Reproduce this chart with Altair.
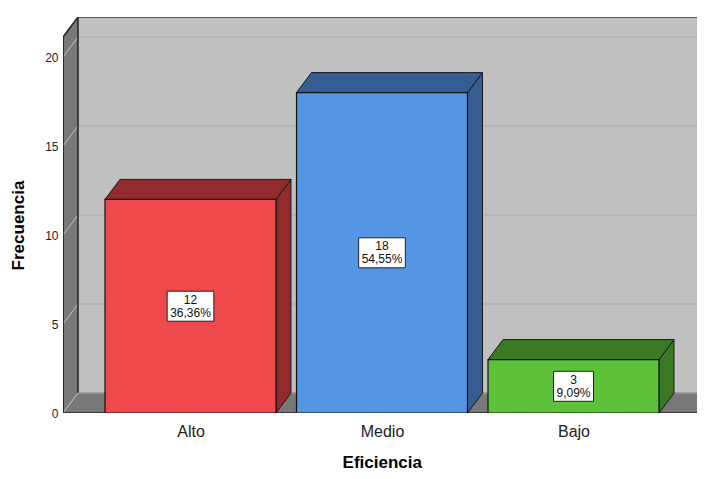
import altair as alt
import pandas as pd

# ---- data ----
categories = ["Alto", "Medio", "Bajo"]
counts = [12, 18, 3]
front_colors = ["#EE4A4D", "#5495E4", "#5DC23A"]
dark_colors = ["#922B2E", "#345E91", "#3A7A25"]
y_ticks = [0, 5, 10, 15, 20]

total = sum(counts)
pct_labels = [f"{c / total * 100:.2f}".replace(".", ",") + "%" for c in counts]

# ---- geometry (in data units) ----
PX_X = 191.5          # pixels per category step
PX_Y = 17.8           # pixels per frequency unit
centers = [1, 2, 3]
HALF_W = 85.5 / PX_X  # half bar width
DX = 15 / PX_X        # 3D depth, x
DY = 20 / PX_Y        # 3D depth, y
X0 = 1 - 127.5 / PX_X
X1 = 3 + 127.5 / PX_X
Y_TOP = 376 / PX_Y
PLOT_W = 634
PLOT_H = 396
X_MAX = X0 + PLOT_W / PX_X
Y_MAX = PLOT_H / PX_Y

FONT = "Liberation Sans"

label_expr = " : ".join(
    [f"datum.value == {c} ? '{n}'" for c, n in zip(centers, categories)]
) + " : ''"

xscale = alt.Scale(domain=[X0, X_MAX], nice=False, zero=False)
yscale = alt.Scale(domain=[0, Y_MAX], nice=False, zero=False)
xaxis = alt.Axis(values=centers, labelExpr=label_expr, title="Eficiencia",
                 grid=False, domain=False, ticks=False, tickSize=0,
                 labelFontSize=16, labelColor="#222222", labelFont=FONT,
                 labelBaseline="middle", labelPadding=18,
                 titleFont=FONT, titleFontSize=17, titleFontWeight="bold",
                 titleColor="#000000", titleX=381.75 - 63, titleY=49,
                 titleBaseline="middle", titleAlign="center",
                 labelOverlap=False, labelBound=False, labelFlush=False)
yaxis = alt.Axis(values=y_ticks, title="Frecuencia", grid=False, domain=False,
                 ticks=False, tickSize=0, labelFontSize=12, labelColor="#222222",
                 labelFont=FONT, labelPadding=5, labelBaseline="middle",
                 titleFont=FONT, titleFontSize=17, titleFontWeight="bold",
                 titleColor="#000000", titleAngle=270, titleX=18 - 63,
                 titleY=225 - 17, titleBaseline="middle", titleAlign="center",
                 labelOverlap=False, labelBound=False, labelFlush=False)


def X(f):
    return alt.X(f, type="quantitative", scale=xscale, axis=xaxis)


def Y(f):
    return alt.Y(f, type="quantitative", scale=yscale, axis=yaxis)


# back wall
wall = pd.DataFrame({"x": [X0 + DX], "x2": [X1 + DX], "y": [DY], "y2": [Y_TOP + DY]})
back = alt.Chart(wall).mark_rect(fill="#C0C0C0", clip=True).encode(
    x=X("x"), x2="x2", y=Y("y"), y2="y2")

# back wall grid
grid = pd.DataFrame({"x": [X0 + DX] * len(y_ticks), "x2": [X1 + DX] * len(y_ticks),
                     "y": [v + DY for v in y_ticks]})
grid_back = alt.Chart(grid).mark_rule(color="#B2B2B2", strokeWidth=1.5, clip=True).encode(
    x=X("x"), x2="x2", y=Y("y"), y2="y")

# left wall
lw = pd.DataFrame({"x": [X0, X0 + DX], "y": [0, DY], "y2": [Y_TOP, Y_TOP + DY]})
left_wall = alt.Chart(lw).mark_area(fill="#787878", clip=True).encode(
    x=X("x"), y=Y("y"), y2="y2")

# floor
fl = pd.DataFrame({"x": [X0, X0 + DX, X1, X1 + DX],
                   "y": [0, 0, 0, DY], "y2": [0, DY, DY, DY]})
floor = alt.Chart(fl).mark_area(fill="#787878", clip=True).encode(
    x=X("x"), y=Y("y"), y2="y2")

# slanted grid on left wall
sg = pd.DataFrame({"x": [X0] * len(y_ticks), "x2": [X0 + DX] * len(y_ticks),
                   "y": y_ticks, "y2": [v + DY for v in y_ticks]})
grid_side = alt.Chart(sg).mark_rule(color="#C4C4C4", strokeWidth=1, clip=True).encode(
    x=X("x"), x2="x2", y=Y("y"), y2="y2")

# frame edges
edges = pd.DataFrame({
    "x":  [X0, X0 + DX, X0, X0 + DX, X0, X1, X0 + DX],
    "x2": [X0, X0 + DX, X0 + DX, X1 + DX, X1, X1 + DX, X1 + DX],
    "y":  [0, DY, Y_TOP, Y_TOP + DY, 0, 0, DY],
    "y2": [Y_TOP, Y_TOP + DY, Y_TOP + DY, Y_TOP + DY, 0, DY, DY],
    "c":  ["#111111", "#222222", "#222222", "#333333", "#222222", "#222222", "#9A9A9A"],
})
frame = alt.Chart(edges).mark_rule(strokeWidth=1.5, clip=True).encode(
    x=X("x"), x2="x2", y=Y("y"), y2="y2", color=alt.Color("c:N", scale=None))

# top faces and side faces
top_rows, side_rows = [], []
for cat, c, h, dc in zip(categories, centers, counts, dark_colors):
    xs = [c - HALF_W, c - HALF_W + DX, c + HALF_W, c + HALF_W + DX]
    ys = [h, h, h, h + DY]
    y2s = [h, h + DY, h + DY, h + DY]
    for a, b, d in zip(xs, ys, y2s):
        top_rows.append({"cat": cat, "x": a, "y": b, "y2": d, "col": dc})
    for a, b, d in zip([c + HALF_W, c + HALF_W + DX], [0, DY], [h, h + DY]):
        side_rows.append({"cat": cat, "x": a, "y": b, "y2": d, "col": dc})

tops = alt.Chart(pd.DataFrame(top_rows)).mark_area(
    stroke="#1A1A1A", strokeWidth=1, strokeJoin="miter", clip=True).encode(
    x=X("x"), y=Y("y"), y2="y2", detail="cat:N",
    fill=alt.Fill("col:N", scale=None))
sides = alt.Chart(pd.DataFrame(side_rows)).mark_area(
    stroke="#1A1A1A", strokeWidth=1, strokeJoin="miter", clip=True).encode(
    x=X("x"), y=Y("y"), y2="y2", detail="cat:N",
    fill=alt.Fill("col:N", scale=None))

bars_df = pd.DataFrame({
    "cat": categories,
    "x": [c - HALF_W for c in centers],
    "x2": [c + HALF_W for c in centers],
    "y": [0] * 3,
    "y2": counts,
    "col": front_colors,
})
fronts = alt.Chart(bars_df).mark_rect(stroke="#111111", strokeWidth=1.2, clip=True).encode(
    x=X("x"), x2="x2", y=Y("y"), y2="y2",
    fill=alt.Fill("col:N", scale=None))

# value label boxes
box_rows = []
for cat, c, h, p in zip(categories, centers, counts, pct_labels):
    tw = 6.67 * sum(ch.isdigit() for ch in p) + 3.33 * p.count(",") + 10.67 * p.count("%")
    hw = (tw + 6) / 2 / PX_X
    hh = 15 / PX_Y
    box_rows.append({"cat": cat, "x": c - hw, "x2": c + hw, "y": h / 2 - hh,
                     "y2": h / 2 + hh, "xc": c, "yc": h / 2,
                     "txt": f"{h}\n{p}"})
box_df = pd.DataFrame(box_rows)
boxes = alt.Chart(box_df).mark_rect(fill="white", stroke="#222222", strokeWidth=1).encode(
    x=X("x"), x2="x2", y=Y("y"), y2="y2")
texts = alt.Chart(box_df).mark_text(
    font=FONT, fontSize=12, lineBreak="\n", lineHeight=13, baseline="middle",
    align="center", color="#111111", dy=-6.5).encode(
    x=X("xc"), y=Y("yc"), text="txt:N")

chart = alt.layer(
    back, grid_back, left_wall, floor, grid_side, frame, sides, tops, fronts, boxes, texts
).properties(
    width=PLOT_W, height=PLOT_H,
    autosize=alt.AutoSizeParams(type="none"),
    padding={"left": 55, "top": 9, "right": 0, "bottom": 58},
    background="white",
).configure_view(stroke=None)

chart.save("out.html", embed_options={"renderer": "svg", "actions": False})
